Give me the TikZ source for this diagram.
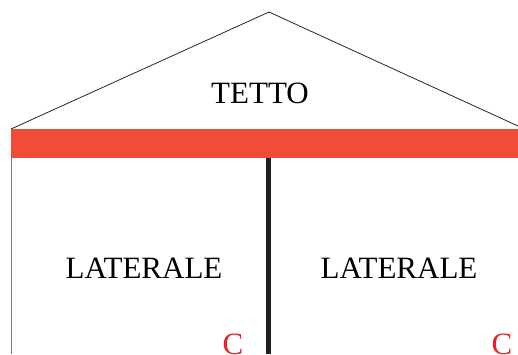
\documentclass[tikz,border=0pt]{standalone}
\usepackage{fontspec}
\setmainfont{Liberation Serif}
\usepackage{tikz}
\usetikzlibrary{positioning}
\definecolor{barred}{RGB}{240,76,58}
\definecolor{cred}{RGB}{232,30,40}
\definecolor{wall}{RGB}{35,31,32}

\begin{document}
\begin{tikzpicture}[x=1pt,y=-1pt,
    lbl/.style={anchor=base,inner sep=0pt,font=\fontsize{31}{31}\selectfont}]
      \useasboundingbox (0,0) rectangle (518,354);
      % roof
      \draw[line width=0.8pt,black!85] (11,129) -- (269,12) -- (518,126);
      % side wall
      \draw[line width=1pt,gray] (11,129) -- (11,354);
      % middle wall
      \draw[line width=5pt,wall] (268,158) -- (268,354);
      % red beam
      \fill[barred] (10.5,129) rectangle (518,158);
      % labels
      \node[lbl] (tetto) at (260,103) {TETTO};
      \node[lbl] (lat1) at (144,278) {LATERALE};
      \node[lbl] (lat2) at (399,278) {LATERALE};
      \node[lbl,cred] (c1) at (233,354) {C};
      \node[lbl,cred] (c2) at (502,354) {C};
    \end{tikzpicture}
\end{document}
